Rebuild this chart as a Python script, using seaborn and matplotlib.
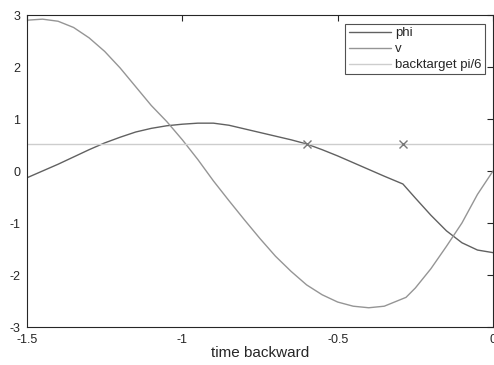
import numpy as np
import pandas as pd
import matplotlib
matplotlib.use("Agg")
import matplotlib.pyplot as plt
import seaborn as sns

t_phi = [-1.50, -1.45, -1.40, -1.35, -1.30, -1.25, -1.20, -1.15, -1.10, -1.05, -1.00,
         -0.95, -0.90, -0.85, -0.80, -0.75, -0.70, -0.65, -0.60, -0.55, -0.50, -0.45,
         -0.40, -0.35, -0.29, -0.25, -0.20, -0.15, -0.10, -0.05, 0.00]
phi = [-0.13, 0.00, 0.13, 0.27, 0.41, 0.54, 0.65, 0.75, 0.82, 0.87, 0.90,
       0.92, 0.92, 0.88, 0.81, 0.74, 0.67, 0.60, 0.52, 0.41, 0.29, 0.16,
       0.03, -0.10, -0.25, -0.52, -0.85, -1.15, -1.38, -1.52, -1.57]

t_v = [-1.50, -1.45, -1.40, -1.35, -1.30, -1.25, -1.20, -1.15, -1.10, -1.05, -1.00,
       -0.95, -0.90, -0.85, -0.80, -0.75, -0.70, -0.65, -0.60, -0.55, -0.50, -0.45,
       -0.40, -0.35, -0.28, -0.25, -0.20, -0.15, -0.10, -0.05, 0.00]
v = [2.90, 2.92, 2.88, 2.76, 2.56, 2.30, 1.98, 1.62, 1.26, 0.95, 0.60,
     0.22, -0.19, -0.57, -0.94, -1.30, -1.64, -1.93, -2.19, -2.38, -2.52, -2.60,
     -2.63, -2.60, -2.43, -2.25, -1.88, -1.45, -1.00, -0.45, 0.00]

t_target = [-1.5, 0.0]
target = [np.pi / 6, np.pi / 6]

t_marks = [-0.60, -0.29]
marks = [np.pi / 6, np.pi / 6]

sns.set_style("white")
plt.rcParams['font.family'] = ['Liberation Sans', 'DejaVu Sans']

fig = plt.figure(figsize=(4.94, 3.65), dpi=100)
ax = fig.add_axes([27 / 494, 1 - 327 / 365, 466 / 494, 312 / 365])

df_phi = pd.DataFrame({"t": t_phi, "y": phi})
df_v = pd.DataFrame({"t": t_v, "y": v})
df_tg = pd.DataFrame({"t": t_target, "y": target})
df_mk = pd.DataFrame({"t": t_marks, "y": marks})

sns.lineplot(data=df_phi, x="t", y="y", ax=ax, color="#616161", lw=1.0,
             sort=False, estimator=None, label="phi")
sns.lineplot(data=df_v, x="t", y="y", ax=ax, color="#959595", lw=1.0,
             sort=False, estimator=None, label="v")
sns.lineplot(data=df_tg, x="t", y="y", ax=ax, color="#cdcdcd", lw=1.0,
             sort=False, estimator=None, label="backtarget pi/6")
ax.plot(df_mk["t"], df_mk["y"], ls="none", marker="x", ms=6, mew=1.0,
        color="#777777", clip_on=False)

ax.set_xlim(-1.5, 0)
ax.set_ylim(-3, 3)
ax.set_xticks([-1.5, -1, -0.5, 0])
ax.set_xticklabels(["-1.5", "-1", "-0.5", "0"])
ax.set_yticks([-3, -2, -1, 0, 1, 2, 3])
ax.set_yticklabels(["-3", "-2", "-1", "0", "1", "2", "3"])
ax.tick_params(direction="in", length=4, width=0.8, colors="#262626",
               labelsize=9, top=True, right=True, labelcolor="#262626")
ax.tick_params(axis="x", pad=5)
ax.tick_params(axis="y", pad=5)
for s in ax.spines.values():
    s.set_color("#262626")
    s.set_linewidth(0.8)
ax.set_xlabel("time backward", fontsize=11, color="#262626", labelpad=0)
ax.set_ylabel("")

leg = ax.legend(loc="upper right", bbox_to_anchor=(0.982, 0.972), fontsize=9.5,
                frameon=True, fancybox=False, edgecolor="#262626",
                handlelength=3.2, handletextpad=0.3, borderpad=0.25,
                labelspacing=0.28, borderaxespad=0)
leg.get_frame().set_linewidth(0.8)
for txt in leg.get_texts():
    txt.set_color("#262626")

fig.savefig("out.png", dpi=100)
